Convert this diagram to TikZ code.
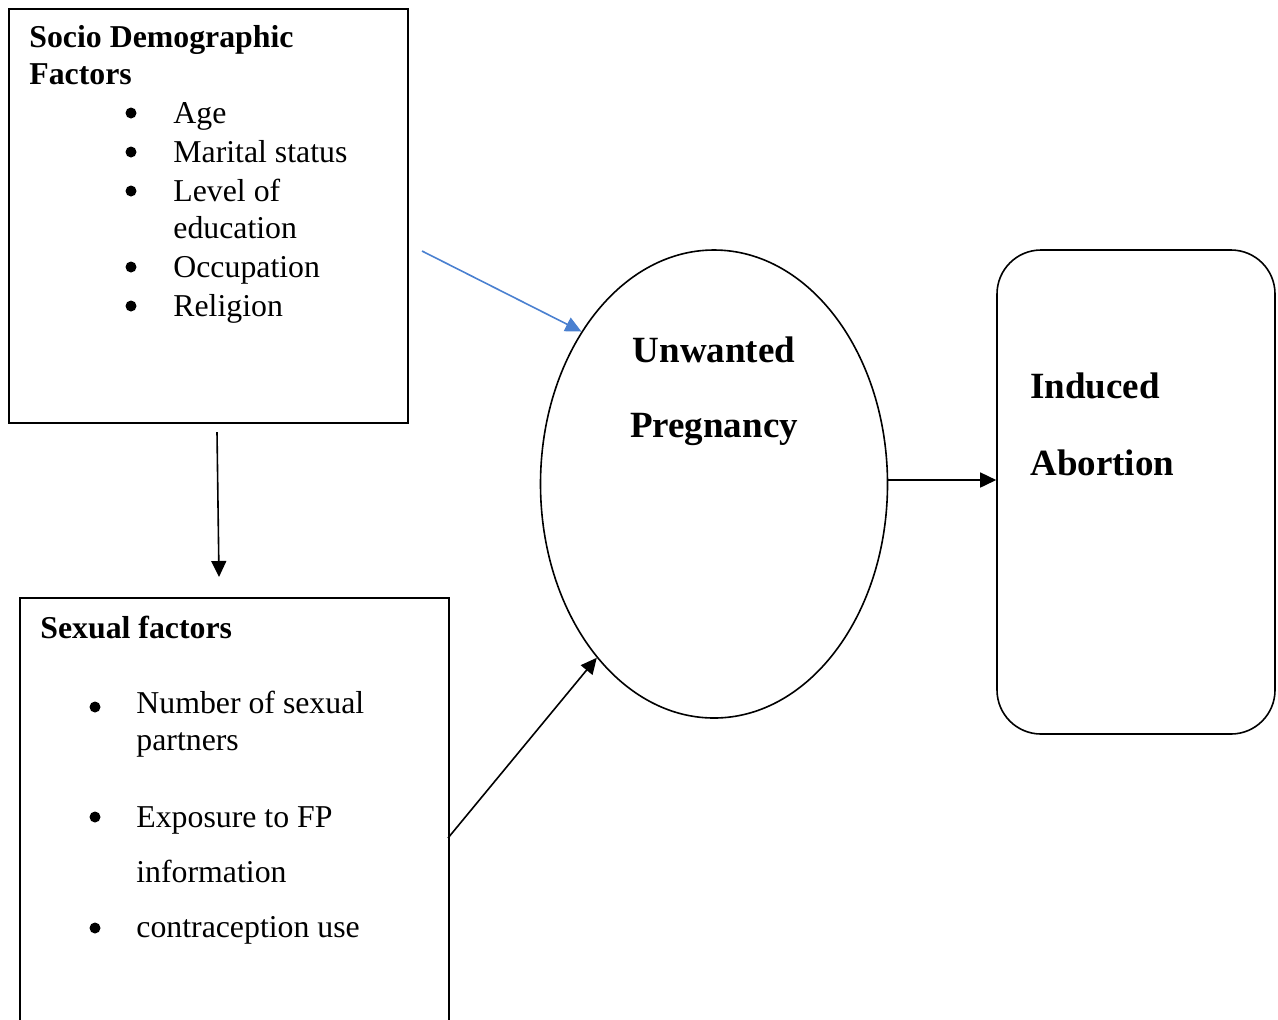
\documentclass[tikz,border=0pt]{standalone}
\usepackage{fontspec}
\setmainfont{Liberation Serif}
\usetikzlibrary{positioning, shapes.geometric, arrows.meta}
\definecolor{arrowblue}{RGB}{74,128,208}

\begin{document}
\begin{tikzpicture}[x=0.5pt, y=-0.5pt]
  % 样式
  \tikzset{box/.style = {draw, line width=0.8pt, inner sep=0pt, anchor=north west}}
  \tikzset{txt/.style = {anchor=base west, inner sep=0pt, align=left, font=\fontsize{15.9}{18.5}\selectfont}}
  \tikzset{head/.style = {txt, font=\fontsize{15.9}{18.5}\selectfont\bfseries}}
  \tikzset{big/.style = {txt, font=\fontsize{18.5}{38}\selectfont\bfseries}}
  \tikzset{dot/.style = {circle, fill=black, minimum size=5.5pt, inner sep=0pt}}
  \tikzset{arr/.style = {draw, line width=0.8pt, -{Triangle[length=8pt, width=7.5pt]}}}

  \useasboundingbox (0,0) rectangle (1278,1019);

  % 社会人口因素
  \node[box, minimum width=199.5pt, minimum height=207pt] (demo) at (8,8) {};
  \node[head] (demohead) at (29,84) {Socio Demographic\\Factors};
  \node[dot] (ddot1) at (131,113) {};
  \node[dot] (ddot2) at (131,152) {};
  \node[dot] (ddot3) at (131,191) {};
  \node[dot] (ddot4) at (131,267) {};
  \node[dot] (ddot5) at (131,306) {};
  \node[txt] (age) at (173,123) {Age};
  \node[txt] (marital) at (173,162) {Marital status};
  \node[txt] (edu) at (173,238) {Level of\\education};
  \node[txt] (occ) at (173,277) {Occupation};
  \node[txt] (rel) at (173,316) {Religion};

  % 性因素
  \node[box, minimum width=214.5pt, minimum height=225pt] (sexual) at (19,597) {};
  \node[head] (sexhead) at (40,638) {Sexual factors};
  \node[dot] (sdot1) at (95,707) {};
  \node[dot] (sdot2) at (95,817) {};
  \node[dot] (sdot3) at (95,928) {};
  \node[txt] (partners) at (136,750) {Number of sexual\\partners};
  \node[txt] (fp) at (136,882) {Exposure to FP\\[9pt]information};
  \node[txt] (contra) at (136,937) {contraception use};

  % 意外怀孕
  \node[draw, ellipse, line width=0.8pt, minimum width=173.5pt, minimum height=234pt] (preg) at (714,484) {};
  \node[big, anchor=base, align=center] (pregtxt) at (714,437) {Unwanted\\[-0.5pt]Pregnancy};

  % 人工流产
  \node[draw, rounded corners=22pt, line width=0.8pt, minimum width=139pt, minimum height=242pt] (abort) at (1136,492) {};
  \node[big] (aborttxt) at (1030,475) {Induced\\[0.5pt]Abortion};

  % 箭头
  \coordinate (blue0) at (422,251);
  \coordinate (down0) at (217,432);
  \coordinate (down1) at (219,577);
  \coordinate (sex0) at (448,838);
  \draw[arr, arrowblue] (blue0) -- (preg.131);
  \draw[arr] (down0) -- (down1);
  \draw[arr] (sex0) -- (preg.236);
  \draw[arr] ([yshift=2pt]preg.east) -- ([yshift=2pt]preg.east -| abort.west);
\end{tikzpicture}
\end{document}
